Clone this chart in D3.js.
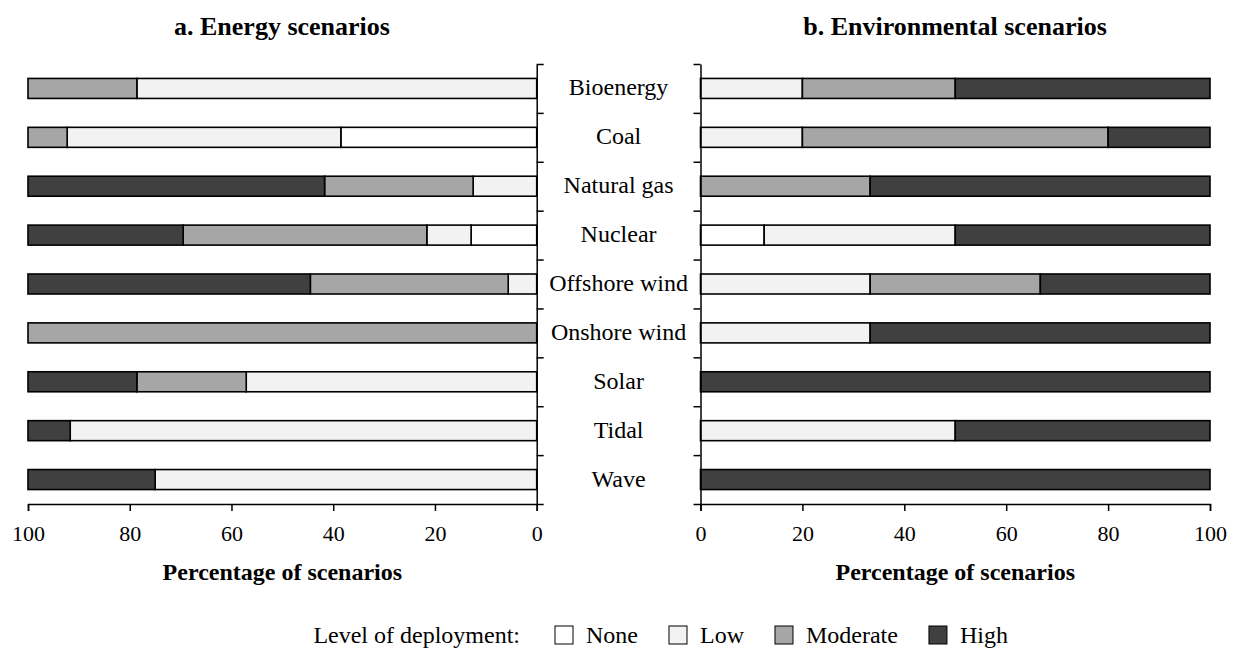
<!DOCTYPE html>
<html>
<head>
<meta charset="utf-8">
<script src="https://cdn.jsdelivr.net/npm/d3@7"></script>
<style>
  body { margin: 0; background: #fff; }
  svg text { font-family: "Liberation Serif", "Times New Roman", serif !important; fill: #000; }
</style>
</head>
<body>
<div id="chart"></div>
<script>
'use strict';

var categories = ['Bioenergy', 'Coal', 'Natural gas', 'Nuclear', 'Offshore wind', 'Onshore wind', 'Solar', 'Tidal', 'Wave'];
var levels = ['None', 'Low', 'Moderate', 'High'];
var levelColors = ['#ffffff', '#f2f2f2', '#a6a6a6', '#404040'];
var tickValues = [0, 20, 40, 60, 80, 100];

// percentages per level, one entry per category (order as categories)
var energyNone     = [0,    38.5, 0,    12.9, 0,    0,   0,    0,    0];
var energyLow      = [78.6, 53.8, 12.5, 8.7,  5.6,  0,   57.1, 91.7, 75];
var energyModerate = [21.4, 7.7,  29.2, 47.9, 38.9, 100, 21.5, 0,    0];
var energyHigh     = [0,    0,    58.3, 30.5, 55.5, 0,   21.4, 8.3,  25];

var envNone     = [0,  0,  0,    12.5, 0,    0,    0,   0,  0];
var envLow      = [20, 20, 0,    37.5, 33.3, 33.3, 0,   50, 0];
var envModerate = [30, 60, 33.3, 0,    33.4, 0,    0,   0,  0];
var envHigh     = [50, 20, 66.7, 50,   33.3, 66.7, 100, 50, 100];

function rows(none, low, moderate, high) {
  return categories.map(function(c, i) {
    return { name: c, None: none[i], Low: low[i], Moderate: moderate[i], High: high[i] };
  });
}

var width = 1237, height = 651;
var plotTop = 64, plotBottom = 504;
var leftAxisX = 536.7, rightAxisX = 700.5;
var serif = '"Liberation Serif", "Times New Roman", serif';

var svg = d3.select('#chart').append('svg')
  .attr('width', width)
  .attr('height', height)
  .attr('font-family', serif);

var y = d3.scaleBand().domain(categories).range([plotTop, plotBottom]).paddingInner(0).paddingOuter(0);
var yTicks = d3.scaleLinear().domain([0, categories.length]).range([plotTop, plotBottom]);
var barH = 20;

var color = d3.scaleOrdinal().domain(levels).range(levelColors);
var stack = d3.stack().keys(levels);

var xLeft = d3.scaleLinear().domain([100, 0]).range([28, leftAxisX]);
var xRight = d3.scaleLinear().domain([0, 100]).range([rightAxisX, 1210]);

function drawPanel(data, x, title, titleX) {
  var g = svg.append('g');
  var series = stack(data);

  g.selectAll('g.series')
    .data(series)
    .enter().append('g')
      .attr('class', 'series')
      .attr('fill', function(d) { return color(d.key); })
    .selectAll('rect')
    .data(function(d) { return d.filter(function(p) { return p[1] - p[0] > 0; }); })
    .enter().append('rect')
      .attr('x', function(d) { return Math.min(x(d[0]), x(d[1])); })
      .attr('width', function(d) { return Math.abs(x(d[1]) - x(d[0])); })
      .attr('y', function(d) { return y(d.data.name) + y.bandwidth() / 2 - barH / 2; })
      .attr('height', barH)
      .attr('stroke', '#000')
      .attr('stroke-width', 1.6);

  var axis = g.append('g')
    .attr('transform', 'translate(0,' + plotBottom + ')')
    .call(d3.axisBottom(x).tickValues(tickValues).tickSize(7).tickSizeOuter(7).tickPadding(14));
  axis.attr('font-family', serif).attr('font-size', 22);
  axis.selectAll('path, line').attr('stroke', '#000').attr('stroke-width', 1.5);
  axis.selectAll('text')
    .style('font-family', serif)
    .style('font-size', '22px');

  var mid = (x.range()[0] + x.range()[1]) / 2;
  g.append('text')
    .attr('x', mid).attr('y', 580)
    .attr('text-anchor', 'middle')
    .style('font-family', serif)
    .style('font-weight', 'bold')
    .style('font-size', '24px')
    .text('Percentage of scenarios');

  g.append('text')
    .attr('x', titleX).attr('y', 35)
    .attr('text-anchor', 'middle')
    .style('font-family', serif)
    .style('font-weight', 'bold')
    .style('font-size', '26px')
    .text(title);
}

drawPanel(rows(energyNone, energyLow, energyModerate, energyHigh), xLeft, 'a. Energy scenarios', 282);
drawPanel(rows(envNone, envLow, envModerate, envHigh), xRight, 'b. Environmental scenarios', 955);

// central category axes
var tickIdx = d3.range(categories.length + 1);
svg.append('g')
  .attr('transform', 'translate(' + leftAxisX + ',0)')
  .call(d3.axisRight(yTicks).tickValues(tickIdx).tickFormat('').tickSize(7).tickSizeOuter(0));
svg.append('g')
  .attr('transform', 'translate(' + rightAxisX + ',0)')
  .call(d3.axisLeft(yTicks).tickValues(tickIdx).tickFormat('').tickSize(7).tickSizeOuter(0));
svg.selectAll('.domain, .tick line').attr('stroke', '#000').attr('stroke-width', 1.5);

svg.append('g').selectAll('text')
  .data(categories)
  .enter().append('text')
    .attr('x', (leftAxisX + rightAxisX) / 2)
    .attr('y', function(d) { return y(d) + y.bandwidth() / 2 + 7; })
    .attr('text-anchor', 'middle')
    .style('font-family', serif)
    .style('font-size', '24px')
    .text(function(d) { return d; });

// legend
var legend = svg.append('g').attr('transform', 'translate(0,643)');
legend.append('text')
  .attr('x', 520).attr('y', 0)
  .attr('text-anchor', 'end')
  .style('font-family', serif)
  .style('font-size', '24px')
  .text('Level of deployment:');

var boxSize = 18;
var cursor = 555;
levels.forEach(function(d) {
  var item = legend.append('g').attr('transform', 'translate(' + cursor + ',0)');
  item.append('rect')
    .attr('x', 0).attr('y', -17)
    .attr('width', boxSize).attr('height', boxSize)
    .attr('fill', color(d))
    .attr('stroke', '#000')
    .attr('stroke-width', 1);
  var t = item.append('text')
    .attr('x', boxSize + 13).attr('y', 0)
    .style('font-family', serif)
    .style('font-size', '24px')
    .text(d);
  cursor += boxSize + 13 + t.node().getComputedTextLength() + 31;
});
</script>
</body>
</html>
